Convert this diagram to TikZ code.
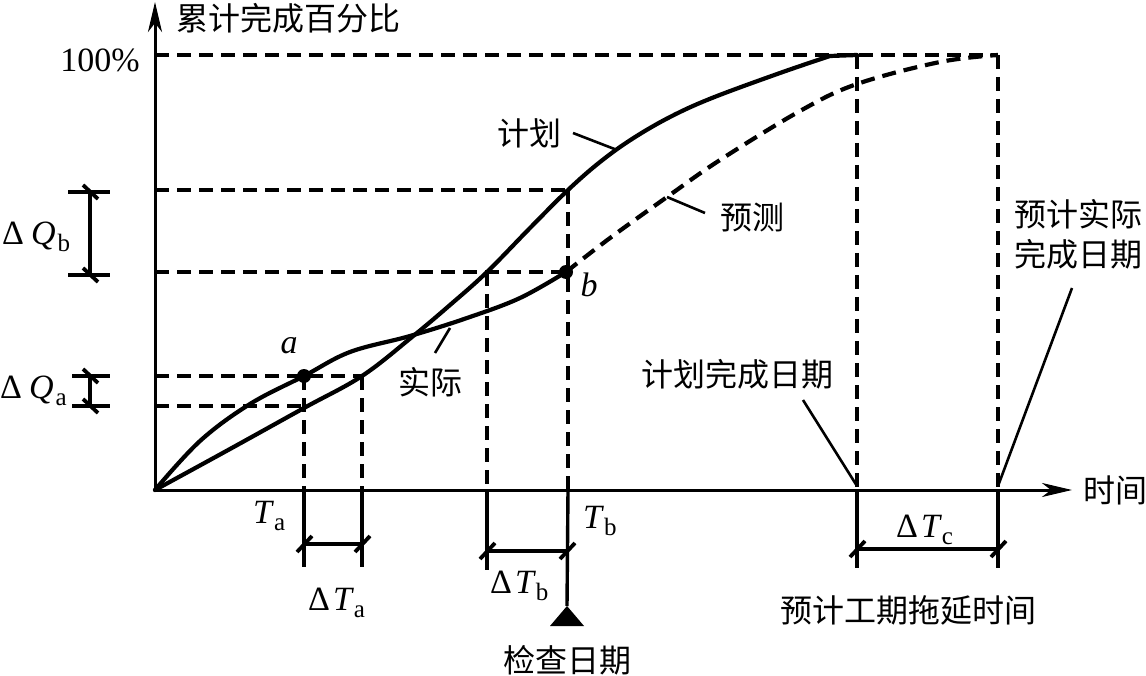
\documentclass[tikz,border=0pt]{standalone}
\usepackage{fontspec}
\setmainfont{Liberation Serif}
\newfontfamily\cjk{Noto Sans CJK SC}
\usetikzlibrary{arrows.meta}
\newcommand\lowsub[1]{\raisebox{-7pt}{\fontsize{25}{25}\selectfont #1}}
\begin{document}
\begin{tikzpicture}[x=1pt,y=-1pt,
  axis/.style={line width=3pt},
  curve/.style={line width=4.2pt, line join=round, line cap=round},
  guide/.style={line width=3.4pt, dash pattern=on 14pt off 8pt},
  solidguide/.style={line width=3.4pt},
  leader/.style={line width=2.6pt},
  tickmark/.style={line width=3.8pt},
  lbl/.style={font=\fontsize{34}{38}\selectfont, inner sep=0pt},
  zh/.style={font=\cjk\fontsize{32}{38}\selectfont, inner sep=0pt},
  arr/.style={-{Stealth[length=30pt,width=14pt,inset=9pt]}},
]
\useasboundingbox (0,0) rectangle (1146,676);
% key coordinates
\coordinate (O) at (155,490);
\coordinate (Ytop) at (155,2);
\coordinate (Xend) at (1072,490);
\coordinate (a) at (304,376);
\coordinate (b) at (566,272);
\coordinate (P100) at (155,55);
\coordinate (E100) at (998,55);
\coordinate (PlanEnd) at (857,55);
\coordinate (Pb) at (568,190);
\coordinate (Pa) at (362,376);
\coordinate (Pl) at (487,272);
\coordinate (Ya) at (155,406);
\coordinate (Yb) at (155,190);
\coordinate (Yq) at (155,376);
\coordinate (Yr) at (155,272);
% axes
\draw[axis,arr] (O) -- (Ytop);
\draw[axis,arr] (O) -- (Xend);
% dashed 100% line
\draw[guide] (P100) -- (E100);
% dashed horizontal guides
\draw[guide] (Yb) -- (Pb);
\draw[guide] (Yr) -- (b);
\draw[guide] (Yq) -- (Pa);
\draw[guide] (Ya) -- (a |- Ya);
% dashed verticals
\draw[guide] (a) -- (a |- O);
\draw[guide] (Pa) -- (Pa |- O);
\draw[guide] (Pl) -- (Pl |- O);
\draw[guide] (Pb) -- (Pb |- O);
\draw[guide] (PlanEnd) -- (PlanEnd |- O);
\draw[guide] (E100) -- (E100 |- O);
% plan curve
\draw[curve] plot[smooth, tension=0.6] coordinates {(155,490) (230,449) (304,408) (362,376) (412,337) (450,305) (487,272) (530,228) (568,190) (600,162) (632,139) (670,117) (712,98) (780,73) (830,56)} -- (PlanEnd);
% actual curve
\draw[curve] plot[smooth, tension=0.6] coordinates {(155,490) (200,441) (250,404) (304,376) (350,352) (410,336) (467,318) (520,298) (566,272)};
% forecast curve
\draw[curve, dash pattern=on 14pt off 8pt, line cap=butt] plot[smooth, tension=0.6] coordinates {(566,272) (610,238) (667,197) (720,160) (800,111) (857,84) (940,62) (998,55)};
% points
\fill (a) circle (7);
\fill (b) circle (7);
% Delta Q brackets
\coordinate (qbt) at (90,192);
\coordinate (qbb) at (90,275);
\coordinate (qat) at (90,376);
\coordinate (qab) at (90,406);
\draw[solidguide] (68,192) -- (110,192);
\draw[solidguide] (68,275) -- (110,275);
\draw[solidguide] (qbt) -- (qbb);
\draw[solidguide] (72,376) -- (110,376);
\draw[solidguide] (72,406) -- (110,406);
\draw[solidguide] (qat) -- (qab);
\foreach \c in {qbt,qbb,qat,qab} \draw[tickmark] (\c) ++(-7,-7) -- ++(15,14);
% solid extensions below axis
\draw[solidguide] (a |- O) -- (a |- 0,567);
\draw[solidguide] (Pa |- O) -- (Pa |- 0,567);
\draw[solidguide] (Pl |- O) -- (Pl |- 0,570);
\draw[solidguide] (PlanEnd |- O) -- (PlanEnd |- 0,568);
\draw[solidguide] (E100 |- O) -- (E100 |- 0,568);
% Delta T bars
\coordinate (ta1) at (304,544);
\coordinate (ta2) at (362,544);
\coordinate (tb1) at (487,551);
\coordinate (tb2) at (567,551);
\coordinate (tc1) at (857,549);
\coordinate (tc2) at (998,549);
\draw[solidguide] (ta1) -- (ta2);
\draw[solidguide] (tb1) -- (tb2);
\draw[solidguide] (tc1) -- (tc2);
\foreach \c in {ta1,ta2,tb1,tb2,tc1,tc2} \draw[tickmark] (\c) ++(-7,8) -- ++(15,-16);
% check date
\coordinate (tri) at (567,606);
\draw[solidguide] (Pb |- O) -- (tri);
\fill (tri) -- (550,626) -- (584,626) -- cycle;
% labels
\node[zh, anchor=west] (ylab) at (176,18) {累计完成百分比};
\node[zh, anchor=west] (xlab) at (1083,490) {时间};
\node[lbl] (p100) at (100,60) {100\%};
\node[lbl, anchor=base west] (dqb) at (2,245) {Δ\hspace{7pt}\textit{Q}\hspace{2pt}\lowsub{b}};
\node[lbl, anchor=base west] (dqa) at (0,398) {Δ\hspace{7pt}\textit{Q}\hspace{2pt}\lowsub{a}};
\node[lbl, anchor=base west] (lta) at (253,523) {\textit{T}\lowsub{a}};
\node[lbl, anchor=base west] (ltb) at (583,528) {\textit{T}\lowsub{b}};
\node[lbl, anchor=base west] (dta) at (308,610) {Δ\hspace{3pt}\textit{T}\lowsub{a}};
\node[lbl, anchor=base west] (dtb) at (490,593) {Δ\hspace{3pt}\textit{T}\lowsub{b}};
\node[lbl, anchor=base west] (dtc) at (896,537) {Δ\hspace{3pt}\textit{T}\lowsub{c}};
\node[lbl] (la) at (289,346) {\textit{a}};
\node[lbl] (lb) at (589,285) {\textit{b}};
\node[zh] (plan) at (529,133) {计划};
\node[zh] (fore) at (752,218) {预测};
\node[zh] (act) at (430,382) {实际};
\node[zh] (pdone) at (737,374) {计划完成日期};
\node[zh, align=center] (adone) at (1078,234) {预计实际\\[2pt]完成日期};
\node[zh] (check) at (567,660) {检查日期};
\node[zh] (delay) at (908,610) {预计工期拖延时间};
% leaders
\coordinate (plA) at (573,133); \coordinate (plB) at (617,150);
\coordinate (foA) at (705,213); \coordinate (foB) at (667,197);
\coordinate (acA) at (435,353); \coordinate (acB) at (450,328);
\coordinate (pdA) at (803,400);
\coordinate (adA) at (1072,288);
\draw[leader] (plA) -- (plB);
\draw[leader] (foA) -- (foB);
\draw[leader] (acA) -- (acB);
\draw[leader] (pdA) -- (PlanEnd |- 0,486);
\draw[leader] (adA) -- (E100 |- 0,486);
\end{tikzpicture}
\end{document}
